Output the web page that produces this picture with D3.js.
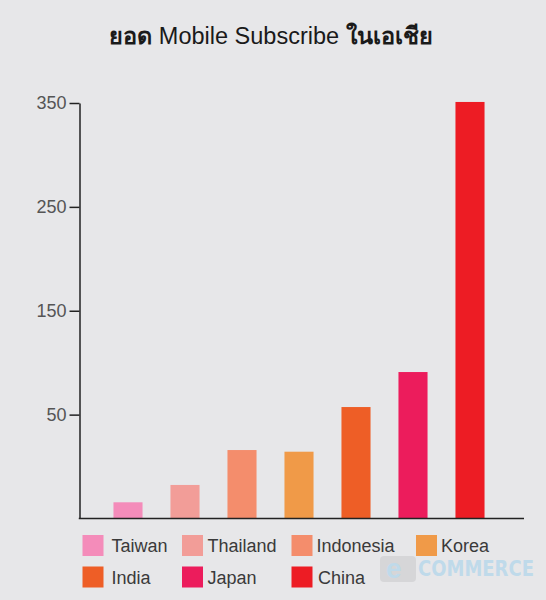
<!DOCTYPE html>
<html>
<head>
<meta charset="utf-8">
<script src="https://cdn.jsdelivr.net/npm/d3@7"></script>
<style>
  html, body { margin: 0; padding: 0; background: #e7e7e9; }
  svg { display: block; }
</style>
</head>
<body>
<svg id="chart" width="546" height="600"></svg>
<script>
const countries = ["Taiwan", "Thailand", "Indonesia", "Korea", "India", "Japan", "China"];
const subscribers = [15.6, 32.3, 65.9, 64.3, 107.3, 141, 401];
const colors = ["#f48cba", "#f29d98", "#f48d6c", "#f09a48", "#ee5e26", "#ec1c5c", "#ed1c24"];
const tickValues = [100, 200, 300, 400];
const tickLabels = ["50", "150", "250", "350"];
const titleParts = [
  { text: "ยอด ", weight: "bold" },
  { text: "Mobile Subscribe ", weight: "normal" },
  { text: "ในเอเชีย", weight: "bold" }
];

const svg = d3.select("#chart");
const W = 546, H = 600;
svg.append("rect").attr("width", W).attr("height", H).attr("fill", "#e7e7e9");

const font = "'Liberation Sans', Arial, Helvetica, sans-serif";

// Title
const title = svg.append("text")
  .attr("x", 271).attr("y", 44)
  .attr("text-anchor", "middle")
  .attr("font-family", font)
  .attr("font-size", 23.5)
  .attr("fill", "#1a1a1a");
title.selectAll("tspan").data(titleParts).join("tspan")
  .attr("font-weight", d => d.weight)
  .text(d => d.text);

const x = d3.scaleBand()
  .domain(countries)
  .range([99.5, 498.5])
  .paddingInner(0.49)
  .paddingOuter(0.245);

const y = d3.scaleLinear()
  .domain([0, 400])
  .range([518.5, 103]);

// Bars
svg.append("g").selectAll("rect")
  .data(countries)
  .join("rect")
  .attr("x", d => x(d))
  .attr("width", x.bandwidth())
  .attr("y", (d, i) => y(subscribers[i]))
  .attr("height", (d, i) => y(0) - y(subscribers[i]))
  .attr("fill", (d, i) => colors[i]);

// Y axis
const yAxis = d3.axisLeft(y)
  .tickValues(tickValues)
  .tickSizeInner(10)
  .tickSizeOuter(0)
  .tickPadding(3)
  .tickFormat((d, i) => tickLabels[i]);
const gy = svg.append("g").attr("transform", "translate(79.5,0)").call(yAxis);
gy.select(".domain").attr("stroke", "#222").attr("stroke-width", 1.5);
gy.selectAll(".tick line").attr("stroke", "#222").attr("stroke-width", 1.5);
gy.selectAll(".tick text")
  .attr("font-family", font)
  .attr("font-size", 18)
  .attr("fill", "#555");

// X axis baseline
svg.append("line")
  .attr("x1", 78.75).attr("x2", 524)
  .attr("y1", y(0)).attr("y2", y(0))
  .attr("stroke", "#222").attr("stroke-width", 1.5);

// Watermark (faint)
const wm = svg.append("g").attr("opacity", 0.55);
wm.append("rect").attr("x", 380).attr("y", 556).attr("width", 36).attr("height", 26)
  .attr("rx", 4).attr("fill", "#c9c9cb");
wm.append("text").attr("x", 386).attr("y", 578)
  .attr("font-family", font).attr("font-size", 28).attr("font-weight", "bold")
  .attr("fill", "#9fd0ec").text("e");
wm.append("text").attr("x", 418).attr("y", 576)
  .attr("font-family", "'DejaVu Sans Condensed', 'DejaVu Sans', sans-serif")
  .attr("font-size", 22).attr("font-weight", "bold")
  .attr("textLength", 116).attr("lengthAdjust", "spacingAndGlyphs")
  .attr("fill", "#9fd0ec").text("COMMERCE");

// Legend
const legendPos = [
  { sx: 82.5, tx: 111.5, y: 535 },
  { sx: 182, tx: 207.5, y: 535 },
  { sx: 291.5, tx: 316.5, y: 535 },
  { sx: 416, tx: 441, y: 535 },
  { sx: 82.5, tx: 111.5, y: 566.5 },
  { sx: 182, tx: 207.5, y: 566.5 },
  { sx: 291.5, tx: 318, y: 566.5 }
];
const lg = svg.append("g").selectAll("g")
  .data(countries)
  .join("g");
lg.append("rect")
  .attr("x", (d, i) => legendPos[i].sx)
  .attr("y", (d, i) => legendPos[i].y)
  .attr("width", 21).attr("height", 21)
  .attr("fill", (d, i) => colors[i]);
lg.append("text")
  .attr("x", (d, i) => legendPos[i].tx)
  .attr("y", (d, i) => legendPos[i].y + 17)
  .attr("font-family", font)
  .attr("font-size", 18)
  .attr("fill", "#3a3a3a")
  .text(d => d);
</script>
</body>
</html>
